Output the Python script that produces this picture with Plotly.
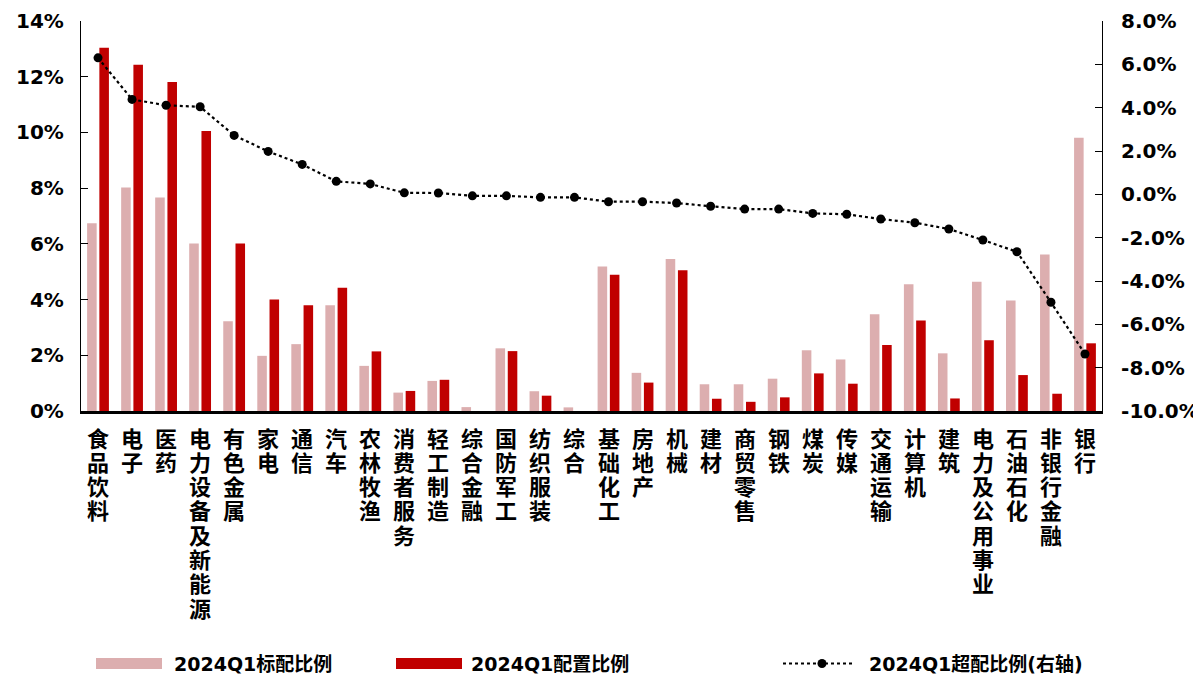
import plotly.graph_objects as go

categories = ["食品饮料", "电子", "医药", "电力设备及新能源", "有色金属", "家电", "通信", "汽车",
              "农林牧渔", "消费者服务", "轻工制造", "综合金融", "国防军工", "纺织服装", "综合",
              "基础化工", "房地产", "机械", "建材", "商贸零售", "钢铁", "煤炭", "传媒", "交通运输",
              "计算机", "建筑", "电力及公用事业", "石油石化", "非银行金融", "银行"]

std_ratio = [6.74, 8.02, 7.66, 6.01, 3.22, 1.98, 2.40, 3.80, 1.62, 0.66, 1.08, 0.14, 2.25, 0.71, 0.13,
             5.19, 1.37, 5.46, 0.96, 0.96, 1.16, 2.18, 1.85, 3.47, 4.55, 2.07, 4.64, 3.97, 5.62, 9.81]
cfg_ratio = [13.04, 12.43, 11.81, 10.05, 6.01, 4.00, 3.80, 4.42, 2.14, 0.72, 1.12, 0.00, 2.15, 0.55, 0.00,
             4.89, 1.02, 5.05, 0.44, 0.33, 0.49, 1.35, 0.98, 2.37, 3.25, 0.45, 2.54, 1.29, 0.62, 2.43]
over_ratio = [6.30, 4.38, 4.11, 4.04, 2.72, 1.98, 1.38, 0.60, 0.48, 0.07, 0.06, -0.07, -0.07, -0.14, -0.14,
              -0.34, -0.34, -0.40, -0.55, -0.68, -0.68, -0.88, -0.92, -1.14, -1.31, -1.60, -2.11, -2.65,
              -4.98, -7.37]

left_tickvals = [0, 2, 4, 6, 8, 10, 12, 14]
left_ticktext = ["0%", "2%", "4%", "6%", "8%", "10%", "12%", "14%"]
right_tickvals = [-10, -8, -6, -4, -2, 0, 2, 4, 6, 8]
right_ticktext = ["-10.0%", "-8.0%", "-6.0%", "-4.0%", "-2.0%", "0.0%", "2.0%", "4.0%", "6.0%", "8.0%"]

series_names = ["2024Q1标配比例", "2024Q1配置比例", "2024Q1超配比例(右轴)"]

LIGHT = "#DCAEAF"
DARK = "#C00000"
FONT = "DejaVu Sans, Noto Sans CJK SC, sans-serif"

# the page body adds an 8px margin; size the figure so it ends at the window edge
OFF = 8
W, H = 1201 - OFF, 676 - OFF
L, R, T, B = 81 - OFF, 99, 21 - OFF, 265
PW = W - L - R
PH = H - T - B
BOTTOM = T + PH


def px(x):
    """window pixel x -> paper x"""
    return (x - OFF - L) / PW


def py(y):
    """window pixel y -> paper y"""
    return (BOTTOM - (y - OFF)) / PH


fig = go.Figure()
fig.add_bar(x=categories, y=std_ratio, name=series_names[0], marker=dict(color=LIGHT, line=dict(width=0)))
fig.add_bar(x=categories, y=cfg_ratio, name=series_names[1], marker=dict(color=DARK, line=dict(width=0)))
fig.add_scatter(x=categories, y=over_ratio, name=series_names[2], yaxis="y2", mode="lines+markers",
                line=dict(color="black", width=2.2, dash="dot"),
                marker=dict(color="black", size=9))

annotations = []
# vertical category labels (one character per line)
for cat in categories:
    for k, ch in enumerate(cat):
        annotations.append(dict(x=cat, xref="x", y=0, yref="paper", yanchor="middle", xanchor="center",
                                yshift=-(28 + k * 24.3), text=ch, showarrow=False,
                                font=dict(family=FONT, size=22, color="black", weight="bold")))

shapes = []
# manual legend
leg_y = 663.5
shapes.append(dict(type="rect", xref="paper", yref="paper", x0=px(96), x1=px(162),
                   y0=py(leg_y + 5.5), y1=py(leg_y - 5.5), fillcolor=LIGHT, line=dict(width=0)))
shapes.append(dict(type="rect", xref="paper", yref="paper", x0=px(396), x1=px(462),
                   y0=py(leg_y + 5.5), y1=py(leg_y - 5.5), fillcolor=DARK, line=dict(width=0)))
shapes.append(dict(type="line", xref="paper", yref="paper", x0=px(783), x1=px(853),
                   y0=py(leg_y), y1=py(leg_y), line=dict(color="black", width=2.2, dash="dot")))
shapes.append(dict(type="circle", xref="paper", yref="paper", x0=px(817.5), x1=px(826.5),
                   y0=py(leg_y + 4.5), y1=py(leg_y - 4.5), fillcolor="black", line=dict(width=0)))
for xpos, name in zip([172, 469, 867], series_names):
    annotations.append(dict(x=px(xpos), xref="paper", y=py(leg_y), yref="paper", xanchor="left",
                            yanchor="middle", text=name, showarrow=False,
                            font=dict(family=FONT, size=19, color="black", weight="bold")))

tickfont = dict(family=FONT, size=20, color="black", weight="bold")

fig.update_layout(
    width=W, height=H,
    margin=dict(l=L, r=R, t=T, b=B, pad=0, autoexpand=False),
    paper_bgcolor="white", plot_bgcolor="white",
    barmode="group", bargap=0.28, bargroupgap=0.22,
    showlegend=False,
    font=dict(family=FONT, color="black"),
    xaxis=dict(type="category", range=[-0.5, len(categories) - 0.5], showline=True, linecolor="black",
               linewidth=2.5, ticks="", showticklabels=False, showgrid=False, zeroline=False,
               automargin=False),
    yaxis=dict(range=[0, 14], tickmode="array", tickvals=left_tickvals, ticktext=left_ticktext,
               ticks="inside", ticklen=7, tickcolor="black", tickwidth=1.2,
               showline=True, linecolor="black", linewidth=1.2, showgrid=False, zeroline=False,
               tickfont=tickfont, ticklabelstandoff=12, automargin=False),
    yaxis2=dict(range=[-10, 8], overlaying="y", side="right", tickmode="array",
                tickvals=right_tickvals, ticktext=right_ticktext,
                ticks="inside", ticklen=7, tickcolor="black", tickwidth=1.2,
                showline=True, linecolor="black", linewidth=1.2, showgrid=False, zeroline=False,
                tickfont=tickfont, ticklabelstandoff=14, automargin=False),
    annotations=annotations,
    shapes=shapes,
)

fig.write_html("out.html")
